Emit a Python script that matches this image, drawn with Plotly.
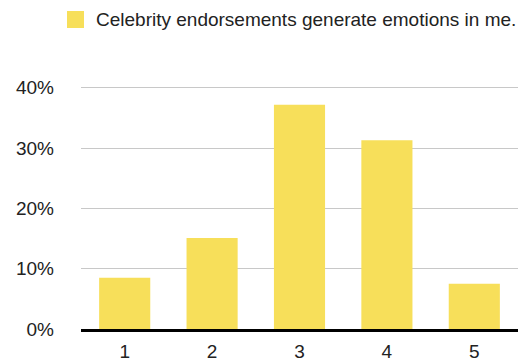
import plotly.graph_objects as go

# Likert responses (1 = strongly disagree ... 5 = strongly agree)
categories = ["1", "2", "3", "4", "5"]
shares = [0.085, 0.151, 0.372, 0.313, 0.075]
series_name = "Celebrity endorsements generate emotions in me."
y_ticks = [0, 0.1, 0.2, 0.3, 0.4]

BAR_COLOR = "#F7DF5A"
TEXT_COLOR = "#222222"
FONT = "Liberation Sans, Arial, Helvetica, sans-serif"

W, H = 528, 363
L, R, T, B = 81, 10, 86, 34
plot_w = W - L - R
plot_h = H - T - B


def px_x(px):
    return (px - L) / plot_w


def px_y(py):
    return (H - B - py) / plot_h


fig = go.Figure(
    go.Bar(
        x=categories,
        y=shares,
        name=series_name,
        marker=dict(color=BAR_COLOR, line=dict(width=0)),
        showlegend=False,
    )
)

# Legend swatch and label
fig.add_shape(
    type="rect", xref="paper", yref="paper",
    x0=px_x(67), x1=px_x(84), y0=px_y(28), y1=px_y(11),
    fillcolor=BAR_COLOR, line=dict(width=0),
)
fig.add_annotation(
    xref="paper", yref="paper", x=px_x(94), y=px_y(20),
    xanchor="left", yanchor="middle", showarrow=False,
    text=series_name, font=dict(size=19, color=TEXT_COLOR, family=FONT),
)

fig.update_layout(
    width=W, height=H,
    margin=dict(l=L, r=R, t=T, b=B),
    paper_bgcolor="white", plot_bgcolor="white",
    bargap=0.415,
    font=dict(family=FONT, size=19, color=TEXT_COLOR),
)
fig.update_xaxes(
    automargin=False,
    showgrid=False, showline=True, linecolor="black", linewidth=2.5,
    ticks="", ticklabelstandoff=3, tickfont=dict(size=19, color=TEXT_COLOR),
)
fig.update_yaxes(
    automargin=False,
    range=[0, 0.403], tickvals=y_ticks, tickformat=".0%",
    showgrid=True, gridcolor="#C8C8C8", gridwidth=1,
    zeroline=False, showline=False, ticks="",
    ticklabelstandoff=26, tickfont=dict(size=19, color=TEXT_COLOR),
)

fig.write_html("out.html")
